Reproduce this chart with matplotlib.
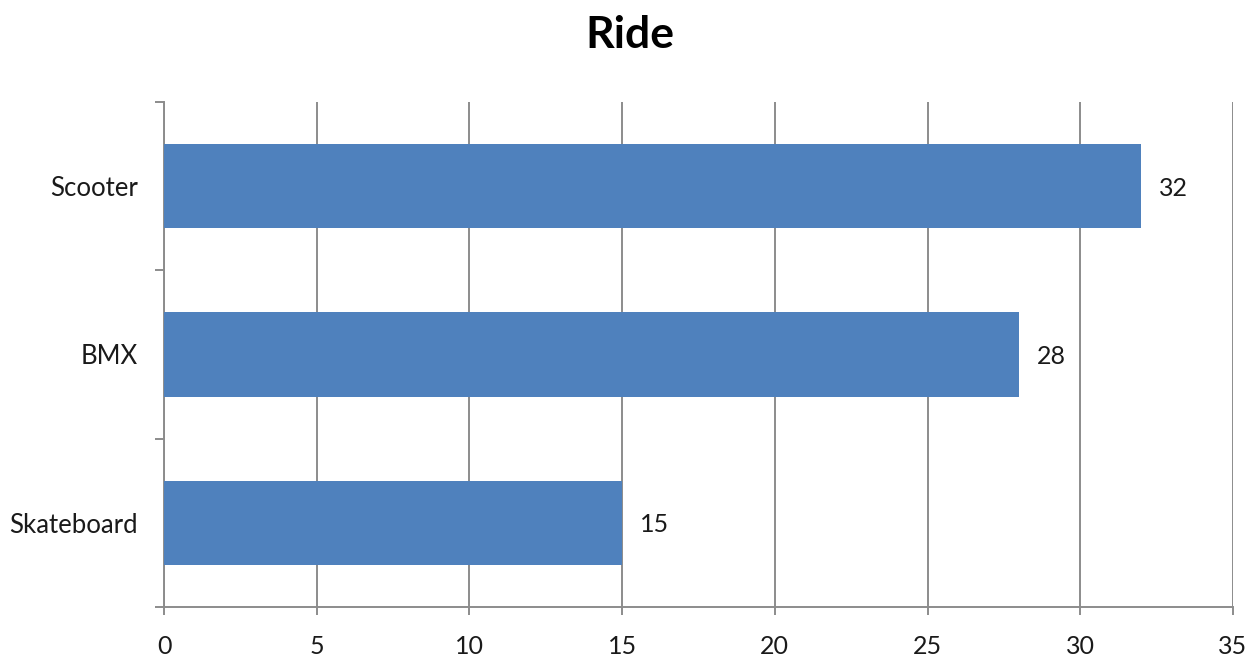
import matplotlib
matplotlib.use("Agg")
import matplotlib.pyplot as plt

categories = ["Skateboard", "BMX", "Scooter"]
values = [15, 28, 32]
xticks = [0, 5, 10, 15, 20, 25, 30, 35]
title = "Ride"

plt.rcParams['font.family'] = ['Lato', 'DejaVu Sans']

fig = plt.figure(figsize=(12.6, 6.61), dpi=100)
ax = fig.add_axes([164/1260, 1-607/661, (1233-164)/1260, (607-102)/661])

pos = list(range(len(categories)))
ax.barh(pos, values, height=0.5, color="#4F81BD", zorder=3)
for p, v in zip(pos, values):
    ax.annotate(str(v), (v, p), xytext=(13, -1.5), textcoords="offset points",
                va="center", ha="left", fontsize=18, color="#1a1a1a")

ax.set_xlim(0, 35)
ax.set_ylim(-0.5, len(categories) - 0.5)
ax.set_xticks(xticks)
ax.set_xticklabels([str(t) for t in xticks], fontsize=18, color="#1a1a1a")
ax.xaxis.grid(True, color="#8c8c8c", linewidth=1.4, zorder=0)
ax.set_axisbelow(True)

ax.set_yticks([-0.5, 0.5, 1.5, 2.5])
ax.set_yticklabels([])
ax.set_yticks(pos, minor=True)
ax.set_yticklabels(categories, minor=True, fontsize=18.5, color="#1a1a1a")
for lbl in ax.get_yticklabels(minor=True):
    lbl.set_y(lbl.get_position()[1])
ax.tick_params(axis='y', which='minor', length=0, pad=19)
ax.tick_params(axis='y', which='major', length=6.5, width=1.4, color="#8c8c8c")
ax.tick_params(axis='x', length=6, width=1.4, color="#8c8c8c", pad=14)

for s in ["top", "right"]:
    ax.spines[s].set_visible(False)
for s in ["left", "bottom"]:
    ax.spines[s].set_color("#8c8c8c")
    ax.spines[s].set_linewidth(1.4)

fig.text(0.5, 0.947, title, ha="center", va="center", fontsize=32, fontweight="bold", color="#000000")

fig.savefig("out.png", dpi=100)
